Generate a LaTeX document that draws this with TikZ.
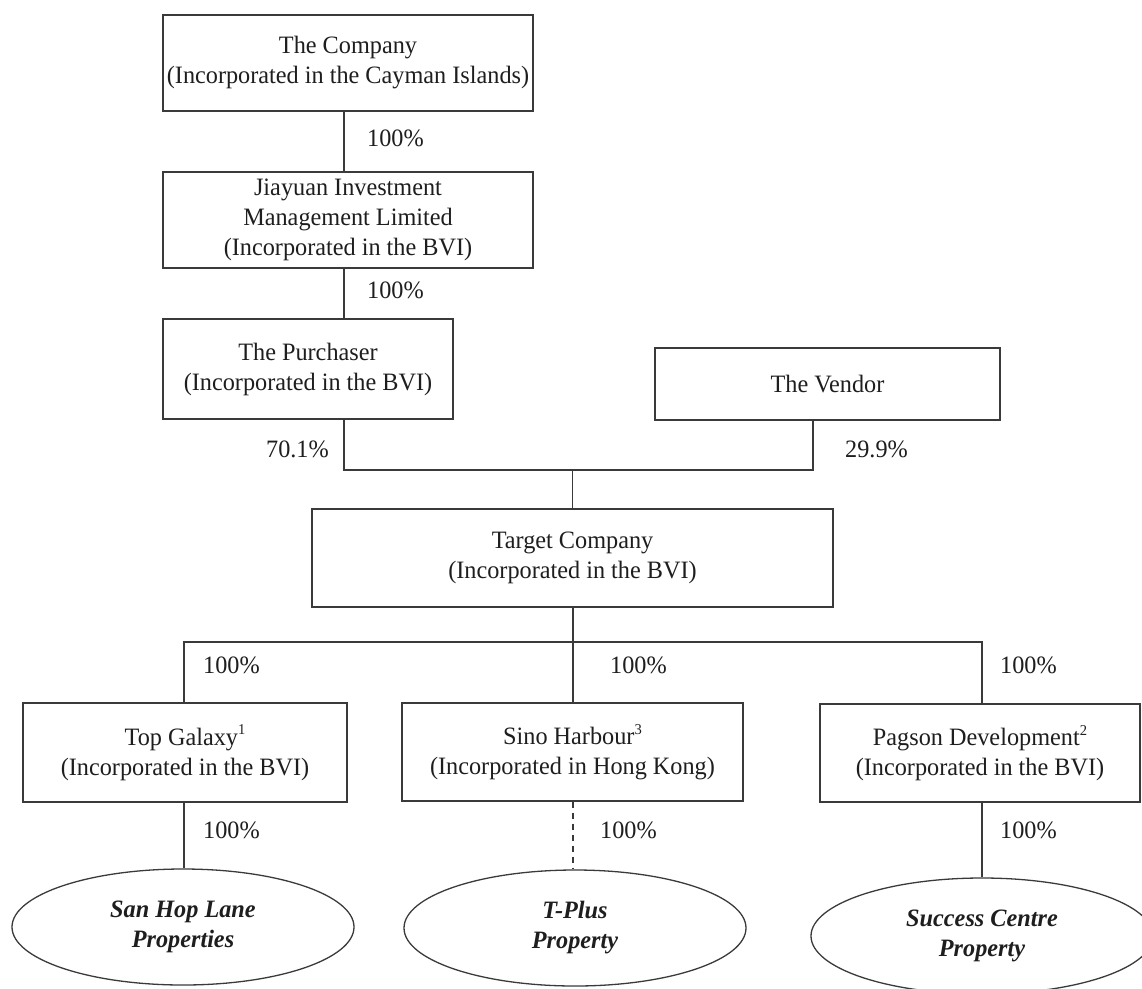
\documentclass[tikz,border=0pt]{standalone}
\usepackage{fontspec}
\setmainfont[FakeStretch=0.97]{Liberation Serif}
\usetikzlibrary{shapes.geometric}
\definecolor{ln}{HTML}{3A3A3A}
\definecolor{tx}{HTML}{1E1E1E}
\newcommand{\supnum}[1]{\raisebox{0.42em}{\fontsize{15}{15}\selectfont #1}}
\begin{document}
\begin{tikzpicture}[x=1pt,y=-1pt,
  box/.style={draw=ln, line width=1.3pt, rectangle, align=center, inner sep=0pt,
    font=\fontsize{25}{30}\selectfont, text=tx},
  prop/.style={draw=ln, line width=1.3pt, ellipse, align=center, inner sep=0pt,
    minimum width=342pt, minimum height=116pt,
    font=\fontsize{25}{30}\selectfont\bfseries\itshape, text=tx},
  conn/.style={draw=ln, line width=1.3pt},
  pct/.style={font=\fontsize{25}{30}\selectfont, text=tx, inner sep=0pt, anchor=base west}]
\useasboundingbox (0,0) rectangle (1142,988);

% boxes
\node[box, minimum width=370pt, minimum height=96pt] (company) at (348,63)
  {The Company\\(Incorporated in the Cayman Islands)};
\node[box, minimum width=370pt, minimum height=96pt] (jia) at (348,220)
  {Jiayuan Investment\\Management Limited\\(Incorporated in the BVI)};
\node[box, minimum width=290pt, minimum height=100pt] (purch) at (308,369)
  {The Purchaser\\(Incorporated in the BVI)};
\node[box, minimum width=345pt, minimum height=72pt] (vend) at (827.5,384)
  {The Vendor};
\node[box, minimum width=521pt, minimum height=98pt] (target) at (572.5,558)
  {Target Company\\(Incorporated in the BVI)};
\node[box, minimum width=324pt, minimum height=99pt] (topg) at (185,752.5)
  {Top Galaxy\supnum{1}\\(Incorporated in the BVI)};
\node[box, minimum width=341pt, minimum height=98pt] (sino) at (572.5,752)
  {Sino Harbour\supnum{3}\\(Incorporated in Hong Kong)};
\node[box, minimum width=320pt, minimum height=98pt] (pag) at (980,753)
  {Pagson Development\supnum{2}\\(Incorporated in the BVI)};

% properties
\node[prop] (e1) at (183,927) {San Hop Lane\\Properties};
\node[prop] (e2) at (575,928) {T-Plus\\Property};
\node[prop] (e3) at (982,936) {Success Centre\\Property};

% branch coordinates
\coordinate (spine) at (344,0);
\coordinate (jl) at (344,470);
\coordinate (jr) at (813,470);
\coordinate (jm) at (572.5,470);
\coordinate (bl) at (184,642);
\coordinate (bm) at (573,642);
\coordinate (br) at (982,642);

% connectors
\draw[conn] (company.south -| spine) -- (jia.north -| spine);
\draw[conn] (jia.south -| spine) -- (purch.north -| spine);
\draw[conn] (purch.south -| jl) -- (jl) -- (jr) -- (vend.south -| jr);
\draw[conn] (jm) -- (target.north -| jm);
\draw[conn] (target.south -| bm) -- (bm);
\draw[conn] (topg.north -| bl) -- (bl) -- (br) -- (pag.north -| br);
\draw[conn] (bm) -- (sino.north -| bm);
\draw[conn] (topg.south -| bl) -- (e1.north -| bl);
\draw[conn, dash pattern=on 6pt off 5pt] (sino.south -| bm) -- (e2.north -| bm);
\draw[conn] (pag.south -| br) -- (e3.north -| br);

% percentages
\node[pct] (p1) at (367,146) {100\%};
\node[pct] (p2) at (367,298) {100\%};
\node[pct, anchor=base east] (p3) at (329,457) {70.1\%};
\node[pct] (p4) at (845,457) {29.9\%};
\node[pct] (p5) at (203,673) {100\%};
\node[pct] (p6) at (610,673) {100\%};
\node[pct] (p7) at (1000,673) {100\%};
\node[pct] (p8) at (203,838) {100\%};
\node[pct] (p9) at (600,838) {100\%};
\node[pct] (p10) at (1000,838) {100\%};
\end{tikzpicture}
\end{document}
